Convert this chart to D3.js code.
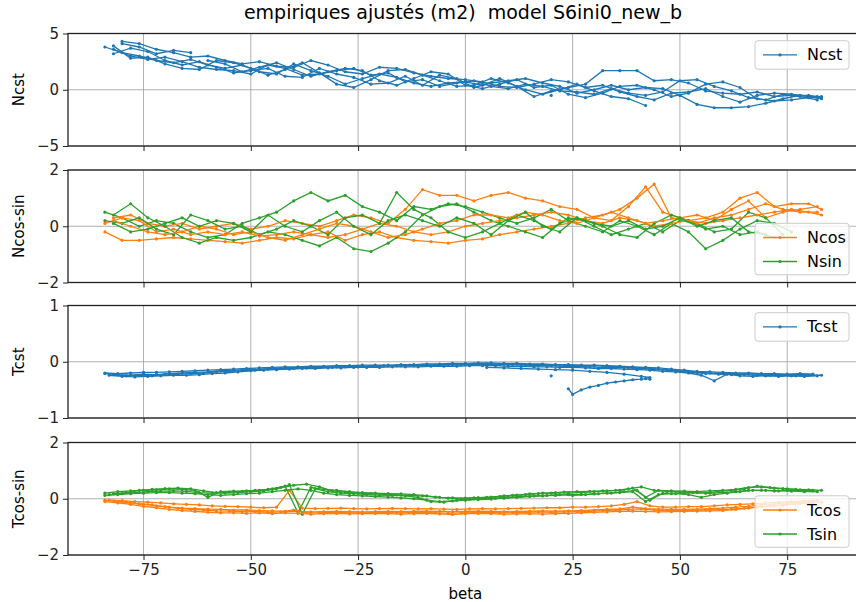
<!DOCTYPE html>
<meta charset="utf-8">
<script src="https://d3js.org/d3.v7.min.js"></script>
<style>
  body { margin: 0; background: #fff; }
  text { font-family: "DejaVu Sans", sans-serif; }
</style>
<div id="vis"></div>
<script>

// beta grids (degrees) shared by the traces
var g1 = [-84,-80,-76,-72,-68,-64,-60,-56,-52,-48,-44,-40,-36,-32,-28,-24,-20,-16,-12,-8,-4,0,4,8,12,16,20,24,28,32,36,40,44,48,52,56,60,64,68,72,76,80,83];
var g2 = [-82,-78,-74,-70,-66,-62,-58,-54,-50,-46,-42,-38,-34,-30,-26,-22,-18,-14,-10,-6,-2,2,6,10,14,18,22,26,30,34,38,42,46,50,54,58,62,66,70,74,78,82];
var g3 = [-84,-81,-78,-75,-72,-69,-66,-63,-60,-57,-54,-51,-48,-45,-42,-39,-36,-33,-30,-27,-24,-21,-18,-15,-12,-9,-6,-3,0,3,6,9,12,15,18,21,24,27,30,33,36,39,42,45,48,51,54,57,60,63,66,69,72,75,78,81];
var g4 = [-83,-80,-77,-74,-71,-68,-65,-62,-59,-56,-53,-50,-47,-44,-41,-38,-35,-32,-29,-26,-23,-20,-17,-14,-11,-8,-5,-2,1,4,7,10,13,16,19,22,25,28,31,34,37,40,43,46,49,52,55,58,61,64,67,70,73,76,79,82];
var g5 = [-82,-79,-76,-73,-70,-67,-64,-61,-58,-55,-52,-49,-46,-43,-40,-37,-34,-31,-28,-25,-22,-19,-16,-13,-10,-7,-4,-1,2,5,8,11,14,17,20,23,26,29,32,35,38,41,44,47,50,53,56,59,62,65,68,71,74,77,80,83];

// Ncst
var ncstA = [3.8,3.3,3.0,2.6,2.4,2.7,2.2,1.9,2.2,1.6,1.4,2.3,1.7,1.2,0.5,1.0,1.4,1.1,0.6,0.3,0.6,0.7,0.4,1.0,0.3,-0.6,-0.1,0.2,0.5,1.7,1.7,1.7,0.8,0.9,0.6,-0.1,-0.3,-0.4,-0.2,-0.6,-0.5,-0.5,-0.7];
var ncstB = [3.6,3.0,2.7,2.9,2.5,2.0,1.8,1.7,1.4,2.2,1.9,1.3,1.4,1.7,1.9,1.3,1.5,0.7,0.9,0.3,0.6,0.8,0.3,0.1,0.5,0.3,-0.1,-0.2,-0.4,0.1,-0.3,-0.5,-0.2,0.8,0.9,0.3,-0.1,-0.7,-0.9,-0.4,-0.6,-0.9];
var ncstC = [null,4.3,4.1,3.6,3.3,2.9,3.0,2.6,2.3,2.5,2.1,2.0,2.6,2.2,1.6,1.4,2.0,1.9,1.5,1.2,1.0,0.9,0.7,0.3,0.2,0.5,0.9,0.7,0.2,0.4,-0.2,-0.6,-0.9,-0.3,-0.2,0.1,-0.6,-1.1,-0.5,-0.3,-0.4,-0.6,-0.8];
var ncstD = [3.9,2.8,2.9,2.3,1.9,1.8,2.6,2.4,1.9,1.3,1.8,2.4,1.5,0.5,0.2,0.9,1.7,1.8,1.3,0.8,0.3,0.4,1.0,0.6,0.0,-0.4,0.0,0.5,-0.1,-0.6,-0.8,-1.4,null,null,null,null,null,null,null,null,null,null];
var ncstE = [null,4.1,3.8,3.2,3.5,3.3,null,null,null,null,null,null,null,null,null,null,null,null,null,null,null,null,null,null,null,null,null,null,null,null,null,null,null,null,null,null,null,null,null,null,null,null,null];
var ncstF = [3.2,3.7,3.4,2.6,2.2,2.5,2.0,1.5,1.7,1.9,1.2,1.1,1.9,1.4,1.1,0.5,0.6,1.2,0.4,1.3,1.0,0.2,0.6,0.8,1.0,0.6,0.3,-0.3,0.0,0.4,0.0,0.2,0.1,-0.5,-1.3,-1.6,-1.6,-1.5,-1.2,-0.8,-0.5,-0.6];
var ncstG = [null,null,null,null,null,null,2.6,2.3,1.6,2.0,2.4,1.8,1.2,1.6,1.9,1.7,0.8,0.4,1.0,1.6,1.4,0.4,0.1,0.5,0.9,0.2,0.4,-0.4,-0.7,-0.3,0.3,0.4,0.0,-0.6,-0.3,0.5,0.7,0.2,-0.8,-1.0,-0.9,-0.7,-0.6];

// Ncos
var ncos1 = [-0.2,-0.5,-0.5,-0.45,-0.4,-0.45,-0.5,-0.55,-0.6,-0.5,-0.4,-0.45,-0.3,-0.2,-0.5,-0.3,-0.2,-0.4,-0.5,-0.55,-0.6,-0.5,-0.45,-0.3,-0.2,-0.1,0.0,0.1,0.3,0.4,0.6,1.0,1.5,0.3,0.2,0.3,0.5,1.0,1.2,0.7,0.8,0.8,0.6];
var ncos2 = [0.3,0.4,0.1,0.0,0.1,-0.1,0.0,0.1,-0.1,0.0,0.2,0.1,0.0,0.2,0.4,0.3,0.1,0.6,1.3,1.1,1.1,0.9,1.1,1.2,1.0,0.9,0.7,0.6,0.3,0.2,0.7,1.4,0.5,0.3,0.4,0.2,0.6,0.9,0.3,0.5,0.6,0.7];
var ncos3 = [0.1,0.3,0.2,-0.2,-0.1,-0.3,-0.2,-0.3,-0.2,-0.35,-0.3,-0.2,-0.3,-0.4,-0.3,-0.1,0.1,0.0,-0.2,-0.3,-0.2,0.0,0.1,0.2,0.3,0.4,0.5,0.4,0.2,0.1,0.3,0.2,0.0,0.1,0.2,0.1,0.2,0.3,0.4,0.5,0.6,0.5,0.4];
var ncos4 = [0.2,0.0,-0.2,-0.3,-0.2,0.0,-0.1,-0.3,-0.2,-0.4,-0.5,-0.3,-0.1,0.1,0.0,-0.2,-0.4,-0.3,-0.1,0.1,0.2,0.4,0.4,0.3,0.5,0.4,0.2,0.1,0.3,0.5,0.3,0.1,0.2,0.3,0.1,0.3,0.4,0.6,0.8,0.6,0.5,0.5];

// Nsin
var nsin1 = [0.5,0.3,0.0,0.2,0.1,-0.2,-0.4,-0.3,0.1,0.3,0.5,0.9,1.2,0.9,1.1,0.7,0.5,0.2,0.7,0.6,0.8,0.7,0.5,0.3,0.1,0.3,0.6,0.2,0.0,-0.2,0.2,0.0,-0.3,0.1,-0.2,-0.8,-0.5,-0.1,0.2,0.1,-0.2,null,null];
var nsin2 = [0.4,0.8,0.3,0.0,-0.4,-0.6,-0.4,-0.5,-0.4,-0.2,-0.3,-0.5,-0.7,-0.4,-0.8,-0.9,-0.6,-0.2,0.4,0.7,0.8,0.5,0.2,0.0,-0.2,-0.4,0.1,0.3,0.0,-0.3,-0.1,0.1,-0.2,0.2,0.1,-0.2,-0.1,0.5,0.3,-0.3,null,null];
var nsin3 = [0.2,0.1,0.3,-0.1,-0.3,0.4,0.2,-0.1,0.0,-0.3,-0.1,0.2,0.0,-0.3,0.3,0.4,0.1,1.2,0.6,0.3,-0.2,-0.4,-0.2,0.1,0.4,0.2,-0.1,0.3,0.2,0.0,-0.3,-0.4,0.1,0.4,0.2,-0.1,0.0,-0.3,-0.2,-0.4,null,null,null];
var nsin4 = [0.1,-0.2,-0.1,0.1,0.3,0.0,0.2,0.1,-0.2,0.4,0.0,-0.2,0.2,0.5,0.0,-0.3,0.2,0.4,0.2,0.0,0.3,0.1,-0.3,0.2,0.5,0.0,-0.2,0.3,0.1,0.0,0.2,-0.1,0.0,0.3,0.0,0.2,0.3,-0.2,-0.3,null,null,null];

// Tcst
var tcst1 = [-0.21,-0.23,-0.24,-0.22,-0.23,-0.21,-0.2,-0.19,-0.18,-0.16,-0.15,-0.14,-0.13,-0.12,-0.11,-0.1,-0.1,-0.09,-0.09,-0.08,-0.08,-0.08,-0.07,-0.07,-0.07,-0.06,-0.06,-0.05,-0.05,-0.04,-0.04,-0.04,-0.04,-0.05,-0.05,-0.06,-0.06,-0.07,-0.07,-0.08,-0.09,-0.1,-0.11,-0.13,-0.15,-0.17,-0.19,-0.2,-0.21,-0.21,-0.22,-0.22,-0.23,-0.23,-0.22,-0.23];
var tcst2 = [-0.24,-0.26,-0.27,-0.26,-0.25,-0.24,-0.24,-0.23,-0.21,-0.2,-0.18,-0.16,-0.15,-0.14,-0.13,-0.12,-0.12,-0.11,-0.11,-0.1,-0.1,-0.1,-0.09,-0.09,-0.09,-0.08,-0.08,-0.08,-0.07,-0.07,-0.07,-0.08,-0.08,-0.09,-0.09,-0.1,-0.1,-0.11,-0.12,-0.12,-0.13,-0.14,-0.15,-0.17,-0.18,-0.2,-0.24,-0.34,-0.22,-0.25,-0.26,-0.25,-0.26,-0.25,-0.26,-0.25];
var tcst3 = [-0.2,-0.21,-0.2,-0.19,-0.19,-0.18,-0.17,-0.16,-0.15,-0.14,-0.13,-0.12,-0.11,-0.1,-0.09,-0.09,-0.08,-0.08,-0.07,-0.07,-0.06,-0.06,-0.06,-0.05,-0.05,-0.04,-0.04,-0.03,-0.03,-0.02,-0.02,-0.03,-0.03,-0.04,-0.04,-0.05,-0.05,-0.06,-0.06,-0.07,-0.08,-0.09,-0.1,-0.11,-0.13,-0.15,-0.17,-0.18,-0.19,-0.2,-0.2,-0.21,-0.21,-0.22,-0.21,-0.22];
var tcst4 = [-0.23,-0.25,-0.24,-0.25,-0.22,-0.22,-0.21,-0.2,-0.18,-0.17,-0.16,-0.15,-0.13,-0.12,-0.12,-0.11,-0.1,-0.1,-0.09,-0.09,-0.08,-0.07,-0.07,-0.06,-0.06,-0.06,-0.05,-0.05,-0.04,-0.04,-0.05,-0.05,-0.06,-0.07,-0.07,-0.08,-0.08,-0.09,-0.1,-0.1,-0.11,-0.12,-0.14,-0.15,-0.17,-0.19,-0.21,-0.22,-0.23,-0.23,-0.24,-0.24,-0.24,-0.25,-0.24,-0.24];
var tcstLowBeta = [5,9,13,17,21,25,29,33,37,41,43];
var tcstLow = [-0.1,-0.11,-0.12,-0.13,-0.14,-0.15,-0.17,-0.19,-0.22,-0.26,-0.28];
var tcstHookBeta = [24,25,27,29,31,33,35,37,39,41,42,43];
var tcstHook = [-0.48,-0.58,-0.5,-0.45,-0.42,-0.38,-0.36,-0.34,-0.32,-0.31,-0.3,-0.31];

// Tcos
var tcos1 = [-0.05,-0.1,-0.15,-0.2,-0.25,-0.3,-0.33,-0.35,-0.37,-0.38,-0.4,-0.4,-0.42,-0.43,-0.45,-0.45,-0.47,-0.46,-0.45,-0.46,-0.47,-0.46,-0.45,-0.46,-0.45,-0.44,-0.45,-0.46,-0.45,-0.44,-0.45,-0.46,-0.45,-0.44,-0.43,-0.44,-0.43,-0.42,-0.4,-0.38,-0.36,-0.3,-0.35,-0.37,-0.38,-0.38,-0.37,-0.35,-0.33,-0.3,-0.27,-0.22,-0.18,-0.15,-0.12,-0.1];
var tcos2 = [-0.05,-0.07,-0.1,-0.12,-0.15,-0.18,-0.2,-0.22,-0.25,-0.27,-0.28,-0.3,-0.32,-0.3,0.3,-0.33,-0.35,-0.34,-0.33,-0.35,-0.36,-0.35,-0.34,-0.35,-0.36,-0.35,-0.37,-0.38,-0.36,-0.35,-0.36,-0.35,-0.34,-0.33,-0.32,-0.32,-0.3,-0.3,-0.28,-0.25,-0.2,-0.1,-0.25,-0.3,-0.3,-0.28,-0.28,-0.25,-0.22,-0.2,-0.18,-0.15,-0.12,-0.1,-0.08,-0.05];
var tcos3 = [-0.1,-0.15,-0.2,-0.27,-0.32,-0.38,-0.42,-0.45,-0.48,-0.5,-0.5,-0.52,-0.5,-0.53,-0.5,-0.52,-0.55,-0.53,-0.52,-0.54,-0.53,-0.52,-0.53,-0.55,-0.53,-0.52,-0.54,-0.56,-0.53,-0.52,-0.53,-0.55,-0.54,-0.53,-0.55,-0.53,-0.52,-0.5,-0.48,-0.47,-0.45,-0.44,-0.45,-0.47,-0.46,-0.45,-0.44,-0.43,-0.42,-0.38,-0.33,-0.28,-0.25,-0.2,-0.17,-0.15];
var tcos4 = [-0.08,-0.12,-0.18,-0.22,-0.28,-0.34,-0.38,-0.4,-0.43,-0.44,-0.46,-0.45,-0.48,-0.47,-0.4,-0.49,-0.5,-0.48,-0.49,-0.5,-0.49,-0.48,-0.5,-0.49,-0.48,-0.5,-0.51,-0.5,-0.49,-0.48,-0.5,-0.49,-0.48,-0.47,-0.48,-0.47,-0.46,-0.45,-0.42,-0.4,-0.38,-0.36,-0.4,-0.42,-0.42,-0.41,-0.4,-0.39,-0.37,-0.34,-0.3,-0.26,-0.22,-0.18,-0.15,-0.12];

// Tsin
var tsin1 = [0.2,0.25,0.28,0.3,0.32,0.35,0.33,0.3,0.05,0.25,0.27,0.28,0.3,0.35,0.45,-0.5,0.4,0.33,0.3,0.25,0.22,0.2,0.18,0.17,0.15,0.1,0.05,0.03,0.02,0.04,0.06,0.1,0.13,0.17,0.2,0.22,0.2,0.22,0.25,0.28,0.3,0.38,0.05,0.3,0.28,0.27,0.25,0.28,0.3,0.33,0.4,0.42,0.38,0.35,0.32,0.3];
var tsin2 = [0.15,0.18,0.22,0.25,0.27,0.28,0.26,0.22,0.2,0.2,0.22,0.25,0.28,0.35,0.5,-0.55,0.35,0.25,0.2,0.18,0.15,0.13,0.12,0.1,0.05,-0.1,-0.12,-0.05,-0.02,0.0,0.02,0.05,0.08,0.1,0.12,0.15,0.12,0.15,0.18,0.2,0.25,0.3,-0.05,0.2,0.18,0.15,0.05,0.15,0.2,0.25,0.3,0.3,0.28,0.27,0.25,0.25];
var tsin3 = [0.12,0.15,0.18,0.2,0.22,0.22,0.2,0.18,0.15,0.12,0.15,0.18,0.2,0.25,0.3,0.35,0.3,0.2,0.15,0.12,0.1,0.08,0.06,0.03,0.0,-0.05,-0.1,-0.08,-0.05,-0.03,-0.01,0.02,0.05,0.08,0.1,0.12,0.15,0.15,0.17,0.2,0.22,0.25,-0.1,0.15,0.18,0.2,0.22,0.2,0.22,0.25,0.3,0.3,0.28,0.3,0.3,0.28];
var tsin4 = [0.18,0.22,0.3,0.33,0.36,0.38,0.35,0.28,0.22,0.24,0.26,0.3,0.33,0.4,0.48,0.52,0.42,0.28,0.24,0.2,0.18,0.16,0.14,0.12,0.1,0.06,0.02,0.0,0.03,0.05,0.08,0.12,0.15,0.18,0.2,0.24,0.25,0.26,0.28,0.3,0.35,0.42,0.3,0.26,0.24,0.22,0.2,0.26,0.3,0.35,0.45,0.4,0.36,0.33,0.32,0.3];

var xTicks = [-75, -50, -25, 0, 25, 50, 75];
var blue = "#1f77b4", orange = "#ff7f0e", green = "#2ca02c";

function trace(betas, vals, color) { return {betas: betas, vals: vals, color: color}; }

var panels = [
  {label: "Ncst", domain: [-5, 5], ticks: [-5, 0, 5], legend: [["Ncst", blue]], legendPos: "upper",
   traces: [trace(g1, ncstA, blue), trace(g2, ncstB, blue), trace(g1, ncstC, blue), trace(g2, ncstD, blue),
            trace(g1, ncstE, blue), trace(g2, ncstF, blue), trace(g1, ncstG, blue), trace([20], [-0.5], blue)]},
  {label: "Ncos-sin", domain: [-2, 2], ticks: [-2, 0, 2], legend: [["Ncos", orange], ["Nsin", green]], legendPos: "lower",
   traces: [trace(g1, ncos1, orange), trace(g1, nsin1, green), trace(g2, ncos2, orange), trace(g2, nsin2, green),
            trace(g1, ncos3, orange), trace(g1, nsin3, green), trace(g2, ncos4, orange), trace(g2, nsin4, green)]},
  {label: "Tcst", domain: [-1, 1], ticks: [-1, 0, 1], legend: [["Tcst", blue]], legendPos: "upper",
   traces: [trace(g3, tcst1, blue), trace(g4, tcst2, blue), trace(g3, tcst3, blue), trace(g5, tcst4, blue),
            trace(tcstLowBeta, tcstLow, blue), trace(tcstHookBeta, tcstHook, blue), trace([20], [-0.25], blue)]},
  {label: "Tcos-sin", domain: [-2, 2], ticks: [-2, 0, 2], legend: [["Tcos", orange], ["Tsin", green]], legendPos: "lower",
   traces: [trace(g3, tcos1, orange), trace(g3, tsin1, green), trace(g4, tcos2, orange), trace(g4, tsin2, green),
            trace(g3, tcos3, orange), trace(g3, tsin3, green), trace(g5, tcos4, orange), trace(g5, tsin4, green)]}
];

var W = 856, H = 602;
var left = 68, right = 858;
var panelTops = [33.5, 170, 305.5, 442.5], panelH = 112.5;

var svg = d3.select("#vis").append("svg")
  .attr("width", W).attr("height", H);

svg.append("text")
  .attr("x", (left + right) / 2).attr("y", 19)
  .attr("text-anchor", "middle")
  .style("font-size", "19px").style("white-space", "pre")
  .text("empiriques ajustés (m2)  model S6ini0_new_b");

var x = d3.scaleLinear().domain([-92.6, 91.5]).range([left, right]);

panels.forEach(function(p, i) {
  var top = panelTops[i];
  var y = d3.scaleLinear().domain(p.domain).range([top + panelH, top]);
  var g = svg.append("g");

  var clipId = "clip" + i;
  g.append("clipPath").attr("id", clipId)
    .append("rect").attr("x", left).attr("y", top).attr("width", right - left).attr("height", panelH);

  // grid
  g.selectAll(".vgrid").data(xTicks).enter().append("line")
    .attr("x1", function(d) { return x(d); }).attr("x2", function(d) { return x(d); })
    .attr("y1", top).attr("y2", top + panelH)
    .attr("stroke", "#b0b0b0").attr("stroke-width", 1);
  g.selectAll(".hgrid").data(p.ticks).enter().append("line")
    .attr("x1", left).attr("x2", right)
    .attr("y1", function(d) { return y(d); }).attr("y2", function(d) { return y(d); })
    .attr("stroke", "#b0b0b0").attr("stroke-width", 1);

  var line = d3.line()
    .defined(function(d) { return d[1] != null; })
    .x(function(d) { return x(d[0]); })
    .y(function(d) { return y(d[1]); });

  var plot = g.append("g").attr("clip-path", "url(#" + clipId + ")");
  p.traces.forEach(function(t) {
    var pts = t.betas.map(function(b, k) { return [b, t.vals[k]]; });
    plot.append("path").datum(pts)
      .attr("d", line)
      .attr("fill", "none").attr("stroke", t.color).attr("stroke-width", 1.3);
    plot.selectAll(null).data(pts.filter(function(d) { return d[1] != null; })).enter()
      .append("circle")
      .attr("cx", function(d) { return x(d[0]); })
      .attr("cy", function(d) { return y(d[1]); })
      .attr("r", 1.6).attr("fill", t.color);
  });

  // axes
  g.append("g").attr("transform", "translate(" + left + ",0)")
    .call(d3.axisLeft(y).tickValues(p.ticks).tickFormat(d3.format("d")).tickSize(5).tickPadding(4).tickSizeOuter(0))
    .call(function(a) { a.select(".domain").remove(); })
    .selectAll("text").style("font-size", "15px").attr("fill", "#222");
  var xa = g.append("g").attr("transform", "translate(0," + (top + panelH) + ")")
    .call(d3.axisBottom(x).tickValues(xTicks).tickSize(5).tickPadding(4).tickSizeOuter(0)
      .tickFormat(i === 3 ? d3.format("d") : function() { return ""; }));
  xa.select(".domain").remove();
  xa.selectAll("text").style("font-size", "15px").attr("fill", "#222");
  g.selectAll(".tick line").attr("stroke", "#222").attr("stroke-width", 1);

  // frame
  g.append("rect").attr("x", left).attr("y", top).attr("width", right - left).attr("height", panelH)
    .attr("fill", "none").attr("stroke", "#222").attr("stroke-width", 1.3);

  // y label
  g.append("text")
    .attr("transform", "translate(19," + (top + panelH / 2) + ") rotate(-90)")
    .attr("text-anchor", "middle").attr("dominant-baseline", "central")
    .style("font-size", "15px")
    .text(p.label);

  // legend
  var n = p.legend.length;
  var lh = n === 1 ? 28.5 : 51.5;
  var ly = p.legendPos === "upper" ? top + 7.2 : top + panelH - 7.7 - lh;
  var lx = 755;
  var leg = g.append("g");
  leg.append("rect").attr("x", lx).attr("y", ly).attr("width", 94).attr("height", lh)
    .attr("rx", 3).attr("fill", "#fff").attr("fill-opacity", 0.8)
    .attr("stroke", "#ccc").attr("stroke-width", 1);
  p.legend.forEach(function(e, k) {
    var cy = ly + 14.2 + k * 24;
    leg.append("line").attr("x1", lx + 8).attr("x2", lx + 42).attr("y1", cy).attr("y2", cy)
      .attr("stroke", e[1]).attr("stroke-width", 1.3);
    leg.append("circle").attr("cx", lx + 25).attr("cy", cy).attr("r", 1.6).attr("fill", e[1]);
    leg.append("text").attr("x", lx + 52).attr("y", cy)
      .attr("dominant-baseline", "central").style("font-size", "16px").text(e[0]);
  });
});

svg.append("text")
  .attr("x", x(0)).attr("y", 599)
  .attr("text-anchor", "middle").style("font-size", "15px")
  .text("beta");

</script>
